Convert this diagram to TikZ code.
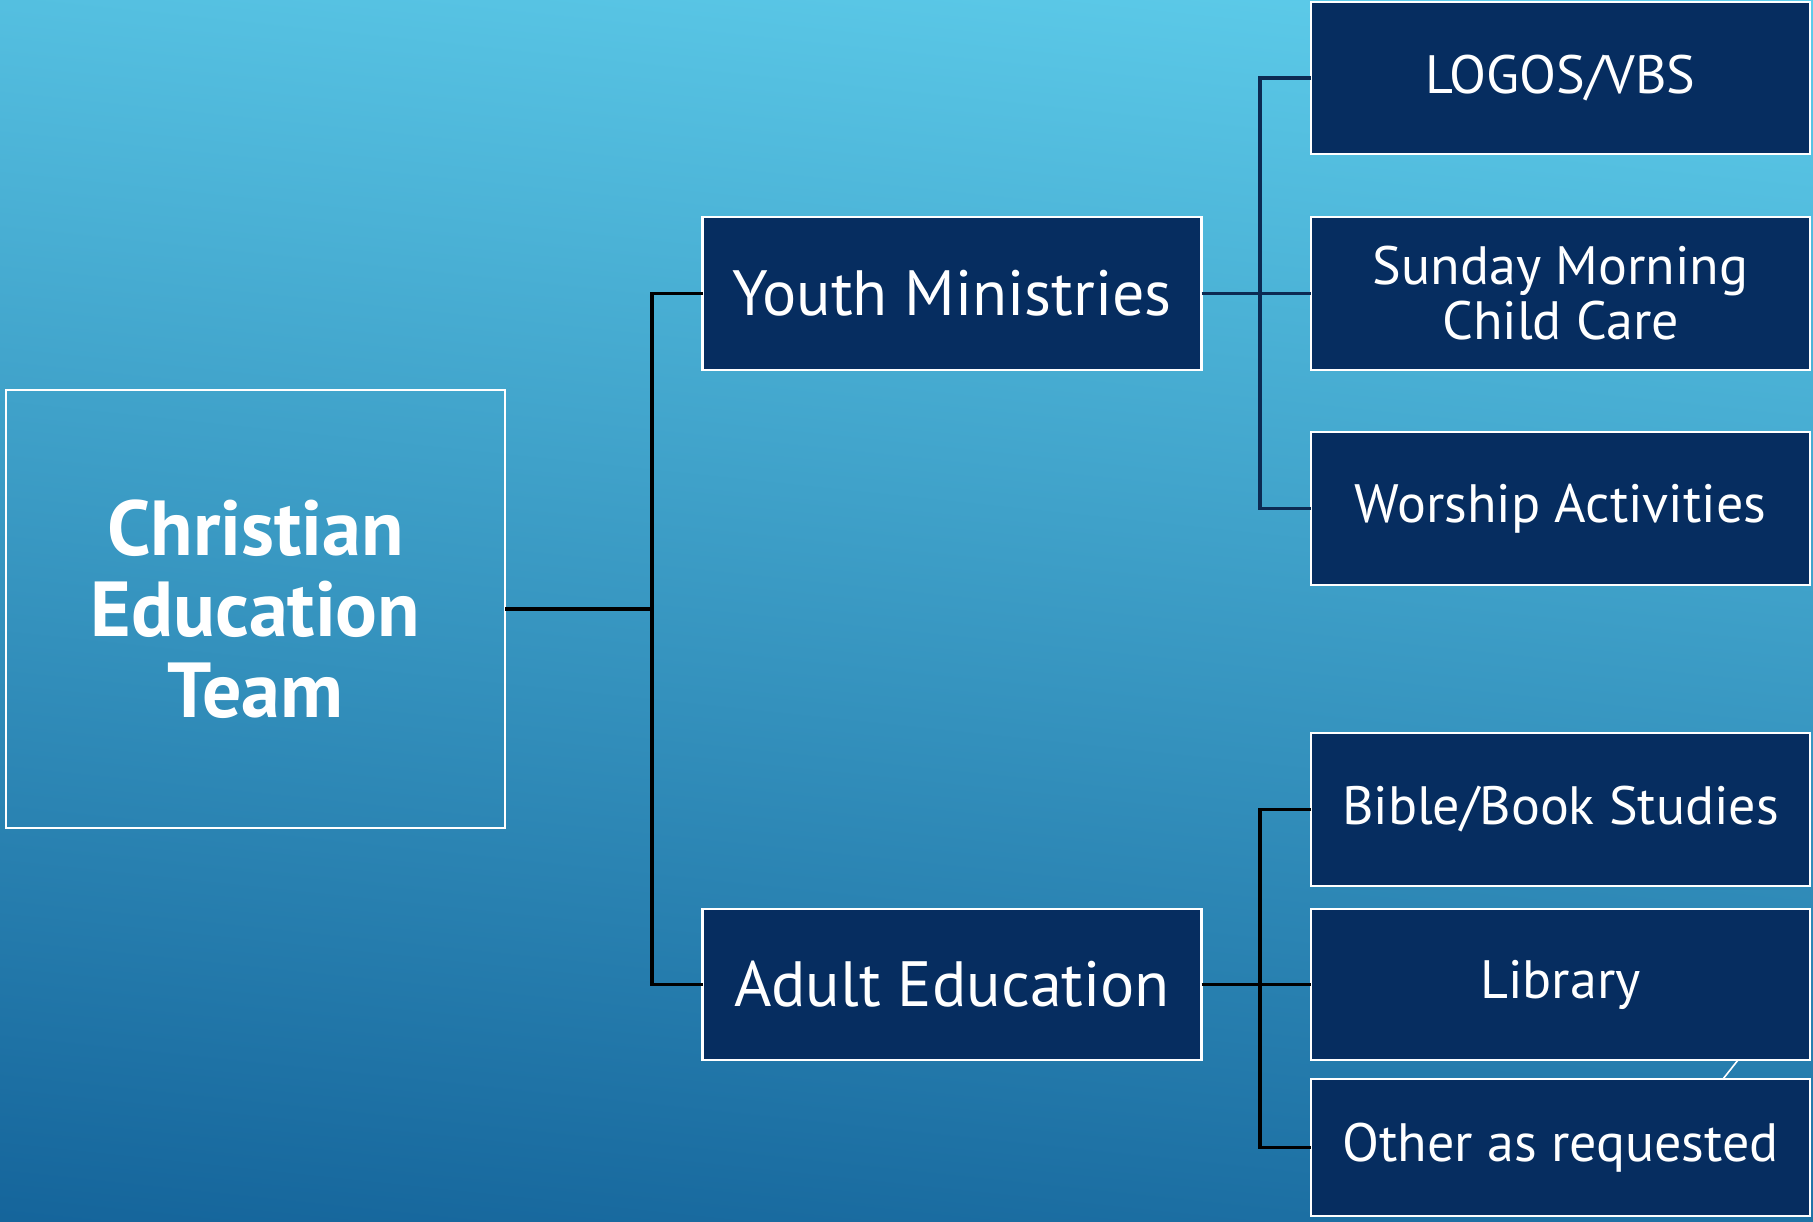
\documentclass[tikz,border=0pt]{standalone}
\usepackage{fontspec}
\setmainfont{PT Sans}
\usetikzlibrary{calc}
\definecolor{navy}{RGB}{6,45,96}
\definecolor{bgtop}{RGB}{96,208,237}
\definecolor{bgbot}{RGB}{19,98,153}
\definecolor{busnavy}{RGB}{12,42,82}
\tikzset{
  box/.style={draw=white, line width=1.4pt, fill=navy, text=white, inner sep=0pt, outer sep=0pt,
    align=center, minimum width=249.5pt},
  midbox/.style={box, font=\fontsize{32}{34}\selectfont},
  leafbox/.style={box, font=\fontsize{27}{27.5}\selectfont},
  conn/.style={line width=1.8pt, black},
  busconn/.style={line width=1.8pt, busnavy},
}
\begin{document}
\begin{tikzpicture}[x=0.5pt,y=-0.5pt]
\useasboundingbox (0,0) rectangle (1813,1221);
\shade[top color=bgtop, bottom color=bgbot, shading angle=-6] (-100,-100) rectangle (1913,1321);

\node[draw=white, line width=1.4pt, inner sep=0pt, outer sep=0pt, text=white, align=center,
  minimum width=249.5pt, minimum height=219pt, font=\bfseries\fontsize{39}{40.5}\selectfont]
  (cet) at (255.5,609) {Christian\\Education\\Team};

\node[midbox, minimum height=76.5pt] (youth) at (952,293.5) {Youth Ministries};
\node[midbox, minimum height=75.5pt] (adult) at (952,984.5) {Adult Education};

\node[leafbox, minimum height=76pt] (logos) at (1560.5,78) {LOGOS/VBS};
\node[leafbox, minimum height=76.5pt] (sunday) at (1560.5,293.5) {Sunday Morning\\Child Care};
\node[leafbox, minimum height=76.5pt] (worship) at (1560.5,508.5) {Worship Activities};
\node[leafbox, minimum height=76.5pt] (bible) at (1560.5,809.5) {Bible/Book Studies};
\node[leafbox, minimum height=75.5pt] (library) at (1560.5,984.5) {Library};
\node[leafbox, minimum height=68.5pt] (other) at (1560.5,1147.5) {Other as requested};

% trunk from the team box
\coordinate (trunk) at (652,609);
\draw[conn] (cet.east) -- (trunk);
\draw[conn] (youth.west) -| (trunk) |- (adult.west);

% youth bus
\coordinate (ybus) at (1260,293.5);
\draw[busconn] (youth.east) -- (ybus);
\draw[busconn] (logos.west) -| (ybus) |- (worship.west);
\draw[busconn] (ybus) -- (sunday.west);

% adult bus
\coordinate (abus) at (1260,984.5);
\draw[conn] (adult.east) -- (abus);
\draw[conn] (bible.west) -| (abus) |- (other.west);
\draw[conn] (abus) -- (library.west);

% small white slash between Library and Other
\coordinate (s1) at ($(library.south)+(177.5,0)$);
\coordinate (s2) at ($(other.north)+(162.5,0)$);
\draw[white, line width=0.8pt] (s1) -- (s2);
\end{tikzpicture}
\end{document}
